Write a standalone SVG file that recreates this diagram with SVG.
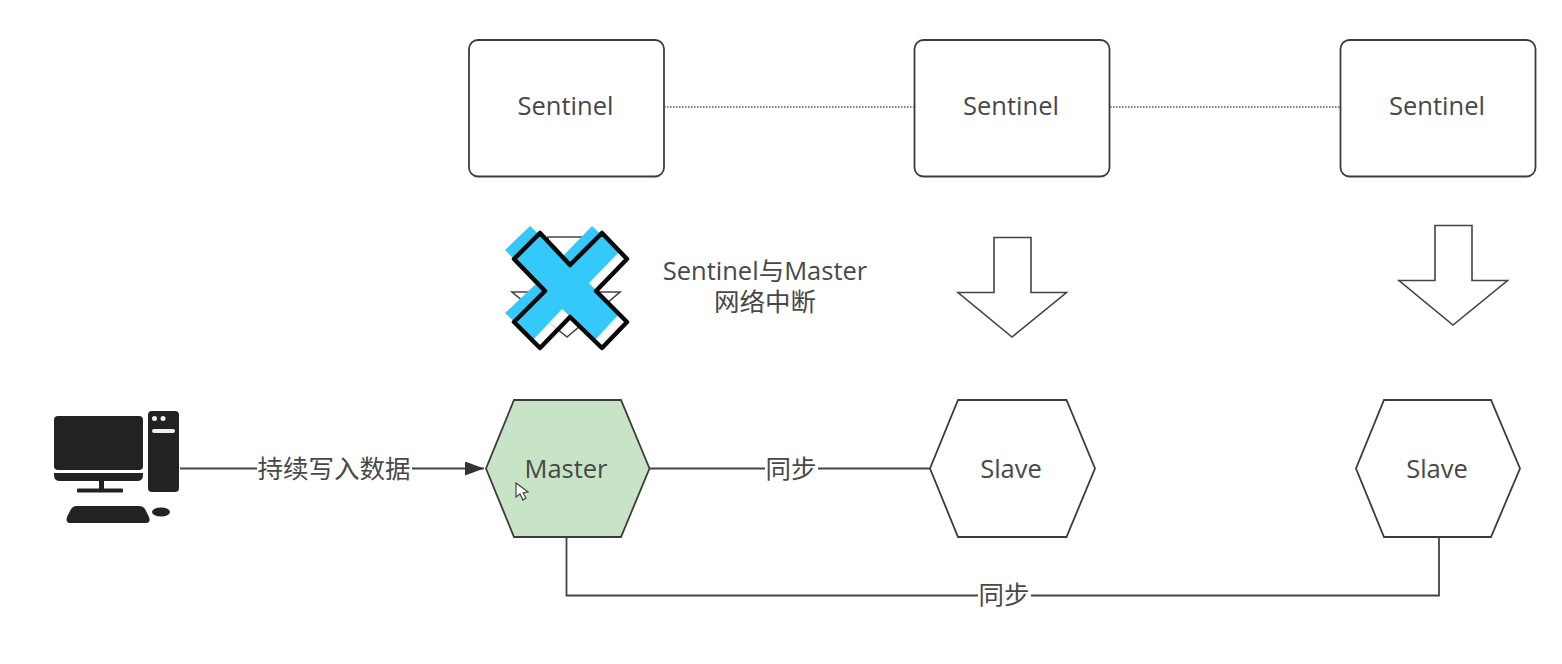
<svg xmlns="http://www.w3.org/2000/svg" width="1562" height="664" viewBox="0 0 1562 664">
<style>
text{font-family:"Open Sans","Noto Sans CJK SC",sans-serif;font-size:25.500px;fill:#484848;text-anchor:middle}
.box{fill:#fff;stroke:#3c3c3c;stroke-width:1.800}
.hex{fill:#fff;stroke:#3c3c3c;stroke-width:1.800}
.arrow{fill:#fff;stroke:#444;stroke-width:1.600}
.line{fill:none;stroke:#444;stroke-width:1.800}
.dot{fill:none;stroke:#555;stroke-width:1.600;stroke-dasharray:1.500 1.500}
.lab{fill:#fff;stroke:none}
.pc{fill:#222}
</style>
<defs><marker id="tri" markerUnits="userSpaceOnUse" markerWidth="20" markerHeight="14" refX="19" refY="7" orient="auto"><path d="M0 0L19 7L0 14Z" fill="#333"/></marker></defs>
<rect width="1562" height="664" fill="#fff"/>
<g id="connectors">
<path class="dot" d="M664 107H914"/>
<path class="dot" d="M1110 107H1340"/>
<path class="line" d="M180 468.500H484" marker-end="url(#tri)"/>
<path class="line" d="M650 468.500H930"/>
<path class="line" d="M566.500 537V595.500H1439V538"/>
<rect class="lab" x="257" y="452" width="155" height="34"/><text x="334" y="478">持续写入数据</text>
<rect class="lab" x="765" y="452" width="53" height="34"/><text x="791" y="478">同步</text>
<rect class="lab" x="978" y="579" width="53" height="34"/><text x="1004" y="604">同步</text>
</g>
<g id="sentinel1"><rect class="box" x="469" y="40" width="195" height="136.500" rx="9"/><text x="565.500" y="115">Sentinel</text></g>
<g id="sentinel2"><rect class="box" x="914.500" y="40" width="195" height="136.500" rx="9"/><text x="1011" y="115">Sentinel</text></g>
<g id="sentinel3"><rect class="box" x="1340.500" y="40" width="195" height="136.500" rx="9"/><text x="1437" y="115">Sentinel</text></g>
<g id="arrow1"><path class="arrow" d="M548 237H586V292H620L567 337L512 292H548Z"/></g>
<g id="arrow2"><path class="arrow" d="M994 237.500H1031V292.500H1066.500L1012 337L958 292.500H994Z"/></g>
<g id="arrow3"><path class="arrow" d="M1435 225.500H1472V280.500H1507.500L1453 325L1399 280.500H1435Z"/></g>
<g id="cross">
<path d="M514 259L540 233L570 265L602 233L627 259L596 291L627 322L602 348L570 317L540 348L514 322L545 291Z" fill="#fff" fill-opacity=".8"/>
<path d="M505 250L530 226L562 257L592 226L619 252L589 283L619 314L595 340L562 309L533 340L505 313L537 283Z" fill="#35c8fb"/>
<path d="M514 259L540 233L570 265L602 233L627 259L596 291L627 322L602 348L570 317L540 348L514 322L545 291Z" fill="none" stroke="#0a0a0a" stroke-width="4.500" stroke-linejoin="round"/>
</g>
<g id="annotation"><text x="765" y="280">Sentinel与Master</text><text x="765" y="311">网络中断</text></g>
<g id="client" class="pc">
<rect x="54" y="416" width="89" height="54" rx="4"/>
<path d="M54 473H143V475Q143 481 137 481H60Q54 481 54 475Z"/>
<rect x="99" y="481" width="5" height="8"/>
<rect x="77" y="488.500" width="46" height="4" rx="1"/>
<path d="M148 415Q148 411 152 411H175Q179 411 179 415V488Q179 492 175 492H152Q148 492 148 488Z"/>
<circle cx="154.500" cy="418.500" r="2.500" fill="#eee"/><circle cx="163" cy="418.500" r="2.500" fill="#eee"/>
<rect x="152" y="429" width="23" height="4" rx="2" fill="#eee"/>
<path d="M76 506H139Q143 506 145 509L149 517Q151 523 146 523H71Q65 523 67 517L71 509Q73 506 76 506Z"/>
<ellipse cx="161" cy="512" rx="9" ry="4.500"/>
</g>
<g id="master"><path class="hex" style="fill:#c7e5c6" d="M514 400H621L649.500 468.500L621 537H514L486 468.500Z"/><text x="566" y="478">Master</text><path d="M516 483L516 497L520 494L523 500L526 498L523 493L528 492Z" fill="#fff" stroke="#444" stroke-width="1.200"/></g>
<g id="slave1"><path class="hex" d="M958 400H1066.500L1095 468.500L1066.500 537H958L930 468.500Z"/><text x="1011" y="478">Slave</text></g>
<g id="slave2"><path class="hex" d="M1384 400H1491L1520 468.500L1491 537H1384L1356 468.500Z"/><text x="1437" y="478">Slave</text></g>
</svg>
